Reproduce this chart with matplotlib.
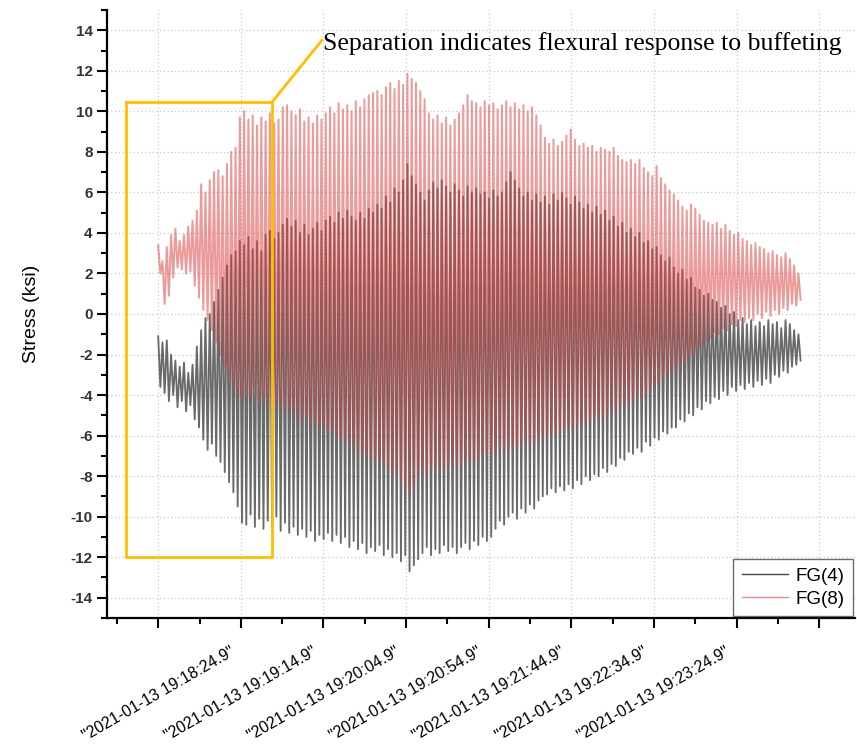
# stress time history, FG(4) vs FG(8), buffeting event
import numpy as np
import matplotlib.pyplot as plt
import matplotlib.transforms as mtrans
from matplotlib.ticker import MultipleLocator

# seconds after 19:18:24.9; each list = one value per cycle (peak or trough)
half_cycle = 1.3

fg4_hi = [-1.1, -1.4, -1.3, -2.0, -2.3, -2.6, -2.4, -2.9, -2.5, -1.6,
          -0.8, -0.2, 0.0, 0.6, 1.2, 1.8, 2.4, 2.9, 3.1, 3.6,
          3.4, 3.8, 3.2, 3.6, 3.1, 3.9, 4.1, 3.7, 4.0, 4.4,
          4.7, 4.3, 4.6, 4.0, 4.4, 3.9, 4.2, 4.5, 4.1, 4.6,
          4.8, 4.5, 5.0, 4.7, 5.1, 4.8, 4.6, 5.0, 4.7, 5.2,
          5.0, 5.4, 5.2, 5.8, 5.5, 6.2, 6.0, 6.6, 7.4, 6.8,
          6.4, 6.0, 5.6, 6.1, 6.5, 6.2, 6.6, 6.3, 6.0, 6.4,
          6.1, 5.8, 6.3, 6.0, 6.2, 5.9, 6.0, 5.7, 6.1, 5.8,
          6.0, 6.5, 7.0, 6.6, 6.2, 5.8, 6.0, 5.6, 5.9, 5.5,
          5.8, 5.4, 5.9, 5.6, 6.0, 5.7, 5.4, 5.8, 5.5, 5.2,
          5.4, 5.0, 5.3, 4.9, 5.1, 4.6, 4.8, 4.3, 4.5, 4.0,
          4.2, 3.8, 4.0, 3.5, 3.6, 3.2, 3.3, 2.9, 2.6, 2.8,
          2.3, 2.0, 2.2, 1.7, 1.8, 1.3, 1.2, 0.9, 1.0, 0.7,
          0.6, 0.3, 0.4, 0.0, 0.1, -0.3, -0.2, -0.5, -0.3, -0.6,
          -0.4, -0.6, -0.3, -0.5, -0.4, -0.7, -0.3, -0.5, -0.8, -1.0]
fg4_lo = [-3.6, -3.9, -4.3, -4.0, -4.6, -4.3, -4.8, -4.5, -5.2, -5.6,
          -6.2, -6.7, -6.4, -7.0, -7.3, -7.8, -8.3, -8.8, -9.5, -10.3,
          -10.4, -9.9, -10.5, -10.1, -10.6, -10.2, -10.5, -10.0, -10.7, -10.3,
          -10.8, -10.5, -10.9, -10.6, -11.0, -10.7, -11.2, -10.9, -11.1, -10.8,
          -11.2, -10.9, -11.3, -11.0, -11.5, -11.2, -11.6, -11.3, -11.8, -11.5,
          -11.7, -11.4, -11.9, -11.6, -12.0, -11.8, -12.2, -11.9, -12.7, -12.4,
          -12.1, -11.8, -11.5, -11.9, -11.6, -11.8, -11.4, -11.7, -11.5, -11.8,
          -11.5, -11.3, -11.6, -11.2, -11.4, -11.0, -11.2, -11.0, -10.6, -10.2,
          -10.4, -10.0, -9.8, -10.1, -9.6, -9.8, -9.4, -9.6, -9.2, -9.0,
          -8.9, -8.6, -8.8, -8.5, -8.7, -8.4, -8.6, -8.2, -8.4, -8.0,
          -8.2, -7.9, -8.0, -7.6, -7.8, -7.4, -7.5, -7.1, -7.2, -6.8,
          -6.9, -6.6, -6.8, -6.3, -6.5, -6.1, -6.2, -5.8, -5.9, -5.6,
          -5.6, -5.2, -5.3, -4.9, -5.0, -4.6, -4.7, -4.3, -4.4, -4.1,
          -4.2, -3.8, -4.0, -3.6, -3.8, -3.5, -3.7, -3.4, -3.6, -3.3,
          -3.5, -3.2, -3.4, -3.0, -3.1, -2.8, -2.9, -2.6, -2.5, -2.3]
fg8_hi = [3.4, 2.6, 3.3, 3.9, 4.2, 3.6, 3.9, 4.3, 4.6, 5.1,
          6.4, 6.0, 6.6, 7.0, 7.1, 6.8, 7.4, 8.0, 8.2, 9.7,
          10.0, 9.6, 9.8, 9.3, 9.7, 9.5, 9.9, 9.4, 9.6, 10.2,
          10.3, 10.0, 9.8, 10.1, 9.5, 9.7, 9.4, 9.8, 9.6, 9.9,
          10.2, 9.9, 10.4, 10.1, 10.3, 10.0, 10.5, 10.2, 10.6, 10.8,
          10.9, 11.0, 10.8, 11.2, 11.4, 11.1, 11.5, 11.3, 11.85, 11.6,
          11.4, 11.0, 10.6, 9.9, 9.6, 9.8, 9.4, 9.7, 9.3, 9.6,
          9.9, 10.3, 10.8, 10.5, 10.4, 10.2, 10.5, 10.3, 10.4, 10.1,
          10.3, 10.5, 10.2, 10.4, 10.1, 10.3, 10.0, 10.2, 9.8, 9.3,
          8.7, 8.4, 8.6, 8.3, 8.5, 8.8, 9.1, 8.6, 8.3, 8.4,
          8.2, 8.3, 8.0, 8.2, 8.1, 8.0, 8.2, 7.8, 7.6, 7.5,
          7.6, 7.4, 7.6, 7.2, 7.0, 6.8, 7.3, 6.7, 6.4, 6.1,
          5.9, 5.6, 5.3, 5.1, 5.4, 5.2, 4.9, 4.6, 4.5, 4.4,
          4.5, 4.2, 4.4, 4.1, 3.9, 4.0, 3.7, 3.6, 3.4, 3.5,
          3.3, 3.2, 3.0, 3.1, 2.9, 2.8, 3.0, 2.7, 2.4, 2.0]
fg8_lo = [2.0, 0.5, 0.9, 1.8, 2.3, 2.2, 2.0, 2.1, 1.4, 0.8,
          0.2, -0.3, -0.8, -1.4, -2.0, -2.6, -3.0, -3.5, -3.9, -4.2,
          -3.8, -4.1, -3.6, -4.3, -4.0, -4.5, -4.2, -4.6, -4.3, -4.8,
          -4.6, -5.0, -4.8, -5.2, -5.0, -5.4, -5.2, -5.6, -5.4, -5.8,
          -5.7, -6.0, -6.2, -6.0, -6.5, -6.3, -6.8, -6.6, -7.0, -7.2,
          -7.0, -7.4, -7.2, -7.6, -7.9, -7.7, -8.2, -8.6, -9.0, -8.4,
          -8.0, -7.6, -7.9, -7.5, -7.8, -7.3, -7.7, -7.4, -7.6, -7.2,
          -7.5, -7.1, -7.4, -7.0, -7.2, -6.8, -7.0, -6.7, -6.9, -6.6,
          -6.8, -6.5, -6.7, -6.4, -6.6, -6.2, -6.4, -6.0, -6.3, -5.9,
          -6.1, -5.8, -6.0, -5.6, -5.9, -5.5, -5.7, -5.4, -5.6, -5.2,
          -5.4, -5.0, -5.2, -4.8, -5.0, -4.6, -4.8, -4.4, -4.6, -4.2,
          -4.3, -4.0, -4.1, -3.7, -3.8, -3.4, -3.5, -3.1, -3.0, -2.7,
          -2.8, -2.4, -2.5, -2.1, -2.0, -1.7, -1.6, -1.3, -1.2, -0.9,
          -1.0, -0.7, -0.8, -0.5, -0.6, -0.3, -0.4, -0.2, -0.3, 0.0,
          -0.2, 0.1, -0.1, 0.2, 0.0, 0.3, 0.2, 0.5, 0.4, 0.7]

tick_sec = [0, 50, 100, 150, 200, 250, 300, 350, 400]
tick_labels = ['"2021-01-13 19:18:24.9"', '"2021-01-13 19:19:14.9"',
               '"2021-01-13 19:20:04.9"', '"2021-01-13 19:20:54.9"',
               '"2021-01-13 19:21:44.9"', '"2021-01-13 19:22:34.9"',
               '"2021-01-13 19:23:24.9"', '', '']


def zigzag(hi, lo):
    y = np.empty(2 * len(hi))
    y[0::2] = hi
    y[1::2] = lo
    return np.arange(len(y)) * half_cycle, y


plt.rcParams['font.family'] = ['Liberation Sans', 'DejaVu Sans']
plt.rcParams['axes.unicode_minus'] = False
fig = plt.figure(figsize=(8.57, 7.46), dpi=100)
ax = fig.add_axes([0.125, 0.1716, 0.873, 0.815])

x4, y4 = zigzag(fg4_hi, fg4_lo)
x8, y8 = zigzag(fg8_hi, fg8_lo)
ax.plot(x4, y4, color='#6a6a6a', lw=1.35, label='FG(4)')
ax.plot(x8, y8, color='#dc4040', lw=1.45, alpha=0.52, label='FG(8)')

# yellow callout
gold = '#ffbf00'
ax.plot([-19.4, 69.0, 69.0, -19.4, -19.4], [10.47, 10.47, -12.0, -12.0, 10.47],
        color=gold, lw=2.0, zorder=5)
ax.plot([69.0, 99.0], [10.47, 13.5], color=gold, lw=2.0, zorder=5)
ax.text(100, 13.35, 'Separation indicates flexural response to buffeting',
        family='Liberation Serif', fontsize=18.5, va='center', ha='left')

ax.set_xlim(-30.9, 421.8)
ax.set_ylim(-15, 15)
ax.set_yticks(range(-14, 15, 2))
ax.yaxis.set_minor_locator(MultipleLocator(1))
ax.set_xticks(tick_sec)
ax.set_xticklabels(tick_labels, rotation=30, ha='center', va='top', fontsize=11.5)
ax.xaxis.set_minor_locator(MultipleLocator(25))
shift = mtrans.ScaledTranslation(5 / 72, 0, fig.dpi_scale_trans)
for lab in ax.get_xticklabels():
    lab.set_transform(lab.get_transform() + shift)
for lab in ax.get_yticklabels():
    lab.set_fontweight('bold')
    lab.set_color('#333333')
    lab.set_fontsize(11)

ax.tick_params(axis='both', which='major', direction='out', length=7, width=1.5)
ax.tick_params(axis='both', which='minor', direction='out', length=4, width=1.5)
ax.tick_params(axis='x', pad=12)
for s in ['top', 'right']:
    ax.spines[s].set_visible(False)
for s in ['left', 'bottom']:
    ax.spines[s].set_linewidth(1.6)

ax.grid(True, which='major', color='#c8c8c8', linestyle=(0, (1, 2)), lw=0.9)
ax.set_axisbelow(True)
ax.set_ylabel('Stress (ksi)', fontsize=14, labelpad=22)

leg = ax.legend(loc='lower right', fontsize=13.5, frameon=True, fancybox=False,
                edgecolor='#444444', handlelength=2.5, handletextpad=0.4,
                borderpad=0.45, labelspacing=0.3, borderaxespad=0.1)
leg.get_frame().set_linewidth(1.0)
for h in leg.get_lines():
    h.set_alpha(1.0)
    h.set_linewidth(1.0)
leg.get_lines()[0].set_color('#444444')
leg.get_lines()[1].set_color('#e09090')

fig.savefig('out.png', dpi=100)
